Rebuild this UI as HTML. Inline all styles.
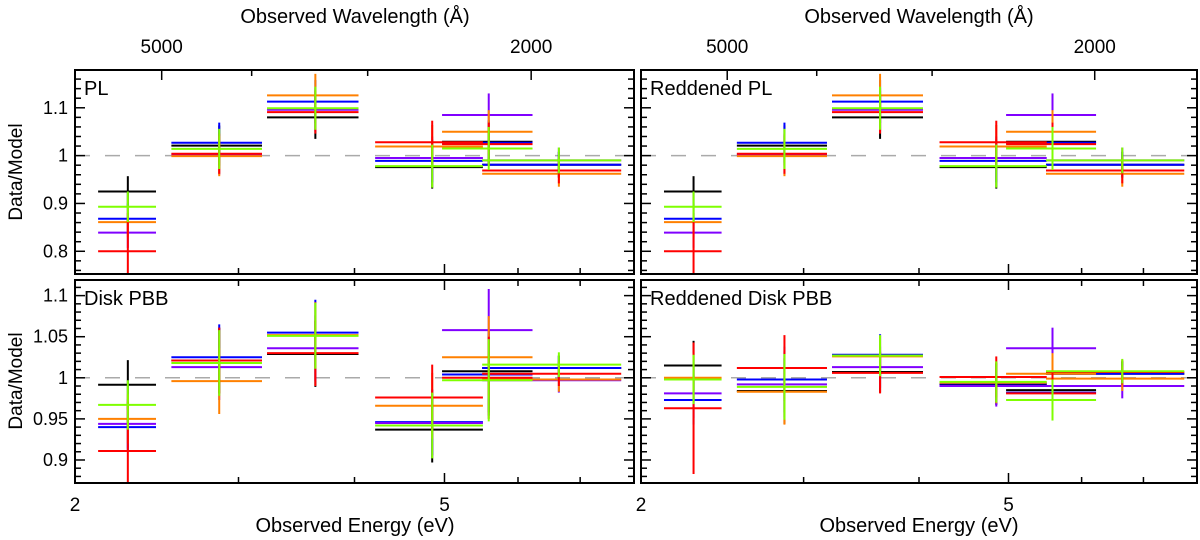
<!DOCTYPE html>
<html><head><meta charset="utf-8">
<style>
html,body{margin:0;padding:0;background:#fff;}
svg{display:block;font-family:"Liberation Sans",sans-serif;}
</style></head>
<body>
<svg id="chart" width="1200" height="540" viewBox="0 0 1200 540" xmlns="http://www.w3.org/2000/svg">
<text x="355" y="23" font-size="20" text-anchor="middle">Observed Wavelength (Å)</text>
<text x="919" y="23" font-size="20" text-anchor="middle">Observed Wavelength (Å)</text>
<text x="355" y="532" font-size="20" text-anchor="middle">Observed Energy (eV)</text>
<text x="919" y="532" font-size="20" text-anchor="middle">Observed Energy (eV)</text>
<text transform="translate(22,172) rotate(-90)" font-size="19" text-anchor="middle">Data/Model</text>
<text transform="translate(22,381) rotate(-90)" font-size="19" text-anchor="middle">Data/Model</text>
<g id="plots"></g>
</svg>
<script>
// bins (energy, eV)
const binLo = [2.118, 2.54, 3.22, 4.21, 4.97, 5.49];
const binHi = [2.445, 3.18, 4.04, 5.50, 6.22, 7.75];
const binMid = [2.28, 2.86, 3.63, 4.85, 5.58, 6.64];
const seriesNames = ['black','blue','purple','orange','red','green'];
const seriesColors = ['#000000','#0000ff','#8000ff','#ff8000','#ff0000','#7fff00'];
// PL ratios
const plBlack = [0.925, 1.021, 1.080, 0.976, 1.029, 0.981];
const plBlue = [0.868, 1.027, 1.113, 0.989, 1.027, 0.981];
const plPurple = [0.839, 1.002, 1.096, 0.995, 1.085, 0.990];
const plOrange = [0.861, 0.999, 1.126, 1.019, 1.050, 0.962];
const plRed = [0.800, 1.004, 1.091, 1.028, 1.024, 0.969];
const plGreen = [0.893, 1.014, 1.099, 0.978, 1.015, 0.990];
const plErr = [0.032, 0.042, 0.045, 0.045, 0.045, 0.027];
const plRedErr1 = 0.08;
// Disk PBB ratios
const dpBlack = [0.9915, 1.021, 1.029, 0.937, 1.008, 1.012];
const dpBlue = [0.940, 1.025, 1.055, 0.946, 1.004, 1.012];
const dpPurple = [0.944, 1.013, 1.036, 0.945, 1.058, 0.997];
const dpOrange = [0.950, 0.996, 1.052, 0.966, 1.025, 0.998];
const dpRed = [0.911, 1.021, 1.030, 0.976, 1.000, 1.005];
const dpGreen = [0.967, 1.018, 1.051, 0.942, 0.997, 1.016];
const dpErr = [0.03, 0.04, 0.04, 0.04, 0.05, 0.015];
const dpRedErr1 = 0.06;
// Reddened Disk PBB ratios
const rdBlack = [1.015, 0.984, 1.007, 0.992, 0.985, 1.005];
const rdBlue = [0.973, 0.998, 1.028, 0.993, 0.982, 1.005];
const rdPurple = [0.981, 0.992, 1.013, 0.990, 1.036, 0.990];
const rdOrange = [1.000, 0.983, 1.026, 0.994, 1.005, 0.999];
const rdRed = [0.963, 1.012, 1.006, 1.001, 0.981, 1.007];
const rdGreen = [0.998, 0.989, 1.027, 0.995, 0.973, 1.008];
const rdErr = [0.03, 0.04, 0.025, 0.025, 0.025, 0.015];
const rdRedErr1 = 0.08;
// ticks
const topYTicks = [0.8, 0.9, 1, 1.1];
const topYTickLabels = ['0.8', '0.9', '1', '1.1'];
const botYTicks = [0.9, 0.95, 1, 1.05, 1.1];
const botYTickLabels = ['0.9', '0.95', '1', '1.05', '1.1'];
const xMajor = [5];
const xMinor = [3, 4, 6, 7];
const wlTicks = [5000, 4000, 3000, 2000];
const wlLabels = ['5000', '', '', '2000'];

const NS = 'http://www.w3.org/2000/svg';
const root = document.getElementById('plots');
function mk(tag, attrs, parent){const e=document.createElementNS(NS,tag);for(const k in attrs)e.setAttribute(k,attrs[k]);(parent||root).appendChild(e);return e;}

const panels = [
 {name:'pl', title:'PL', x0:75, x1:634, y0:70, y1:274, vmin:0.7525, vmax:1.179, vals:[plBlack,plBlue,plPurple,plOrange,plRed,plGreen], err:plErr, rerr:plRedErr1, top:true, left:true},
 {name:'reddened-pl', title:'Reddened PL', x0:641, x1:1197, y0:70, y1:274, vmin:0.7525, vmax:1.179, vals:[plBlack,plBlue,plPurple,plOrange,plRed,plGreen], err:plErr, rerr:plRedErr1, top:true, left:false},
 {name:'disk-pbb', title:'Disk PBB', x0:75, x1:634, y0:280, y1:483, vmin:0.872, vmax:1.119, vals:[dpBlack,dpBlue,dpPurple,dpOrange,dpRed,dpGreen], err:dpErr, rerr:dpRedErr1, top:false, left:true},
 {name:'reddened-disk-pbb', title:'Reddened Disk PBB', x0:641, x1:1197, y0:280, y1:483, vmin:0.872, vmax:1.119, vals:[rdBlack,rdBlue,rdPurple,rdOrange,rdRed,rdGreen], err:rdErr, rerr:rdRedErr1, top:false, left:false}
];

panels.forEach((p,pi)=>{
  const xs = E => p.x0 + (p.x1-p.x0)*Math.log(E/2)/Math.log(4);
  const ys = v => p.y1 - (p.y1-p.y0)*(v-p.vmin)/(p.vmax-p.vmin);
  const g = mk('g',{});
  
  
  const cid='clip'+pi;
  const cp = mk('clipPath',{id:cid},g);
  mk('rect',{x:p.x0,y:p.y0,width:p.x1-p.x0,height:p.y1-p.y0},cp);
  const ref = mk('line',{x1:p.x0,x2:p.x1,y1:ys(1),y2:ys(1),stroke:'#aaaaaa','stroke-width':1.5,'stroke-dasharray':'15 15'},g);
  
  
  const dg = mk('g',{'clip-path':'url(#'+cid+')'},g);
  p.vals.forEach((arr,si)=>{
    const sg = mk('g',{stroke:seriesColors[si],'stroke-width':2,fill:'none'},dg);
    
    
    arr.forEach((v,bi)=>{
      let e = p.err[bi];
      if(seriesNames[si]==='red' && bi===0) e = p.rerr;
      const h = mk('line',{x1:xs(binLo[bi]),x2:xs(binHi[bi]),y1:ys(v),y2:ys(v)},sg);
      
      
      const vl = mk('line',{x1:xs(binMid[bi]),x2:xs(binMid[bi]),y1:ys(v-e),y2:ys(v+e)},sg);
      
      
    });
  });
  const fr = mk('rect',{x:p.x0,y:p.y0,width:p.x1-p.x0,height:p.y1-p.y0,fill:'none',stroke:'#000','stroke-width':2},g);
  
  
  const tg = mk('g',{stroke:'#000','stroke-width':1.5},g);
  const step = p.top ? 0.02 : 0.01;
  for(let v=Math.ceil(p.vmin/step)*step; v<=p.vmax; v+=step){
    const vv = Math.round(v/step)*step;
    const majT = p.top ? 0.1 : 0.05;
    const isMaj = Math.abs(vv/majT - Math.round(vv/majT))<1e-6;
    const L = isMaj?10:6;
    mk('line',{x1:p.x0,x2:p.x0+L,y1:ys(vv),y2:ys(vv)},tg);
    mk('line',{x1:p.x1,x2:p.x1-L,y1:ys(vv),y2:ys(vv)},tg);
  }
  if(p.left){
    const tv = p.top?topYTicks:botYTicks, tl = p.top?topYTickLabels:botYTickLabels;
    tv.forEach((v,i)=>{
      const t = mk('text',{x:p.x0-7,y:ys(v)+6,'font-size':18,'text-anchor':'end'},g);
      t.textContent = tl[i];
      
      
    });
  }
  xMinor.forEach(E=>{
    mk('line',{x1:xs(E),x2:xs(E),y1:p.y1,y2:p.y1-6},tg);
    if(!p.top) mk('line',{x1:xs(E),x2:xs(E),y1:p.y0,y2:p.y0+6},tg);
  });
  xMajor.forEach(E=>{
    mk('line',{x1:xs(E),x2:xs(E),y1:p.y1,y2:p.y1-10},tg);
    if(!p.top) mk('line',{x1:xs(E),x2:xs(E),y1:p.y0,y2:p.y0+10},tg);
  });
  if(p.top){
    wlTicks.forEach((w,i)=>{
      const E = 12398.4/w;
      mk('line',{x1:xs(E),x2:xs(E),y1:p.y0,y2:p.y0+(wlLabels[i]?10:6)},tg);
      if(wlLabels[i]){
        const t = mk('text',{x:xs(E),y:p.y0-17,'font-size':19,'text-anchor':'middle'},g);
        t.textContent = wlLabels[i];
        
        
      }
    });
  } else {
    [2,5].forEach(E=>{
      const t = mk('text',{x:xs(E),y:p.y1+28,'font-size':19,'text-anchor':'middle'},g);
      t.textContent = String(E);
      
      
    });
  }
  const tt = mk('text',{x:p.x0+9,y:p.y0+25,'font-size':20},g);
  tt.textContent = p.title;
  
  
});
</script>
</body></html>
